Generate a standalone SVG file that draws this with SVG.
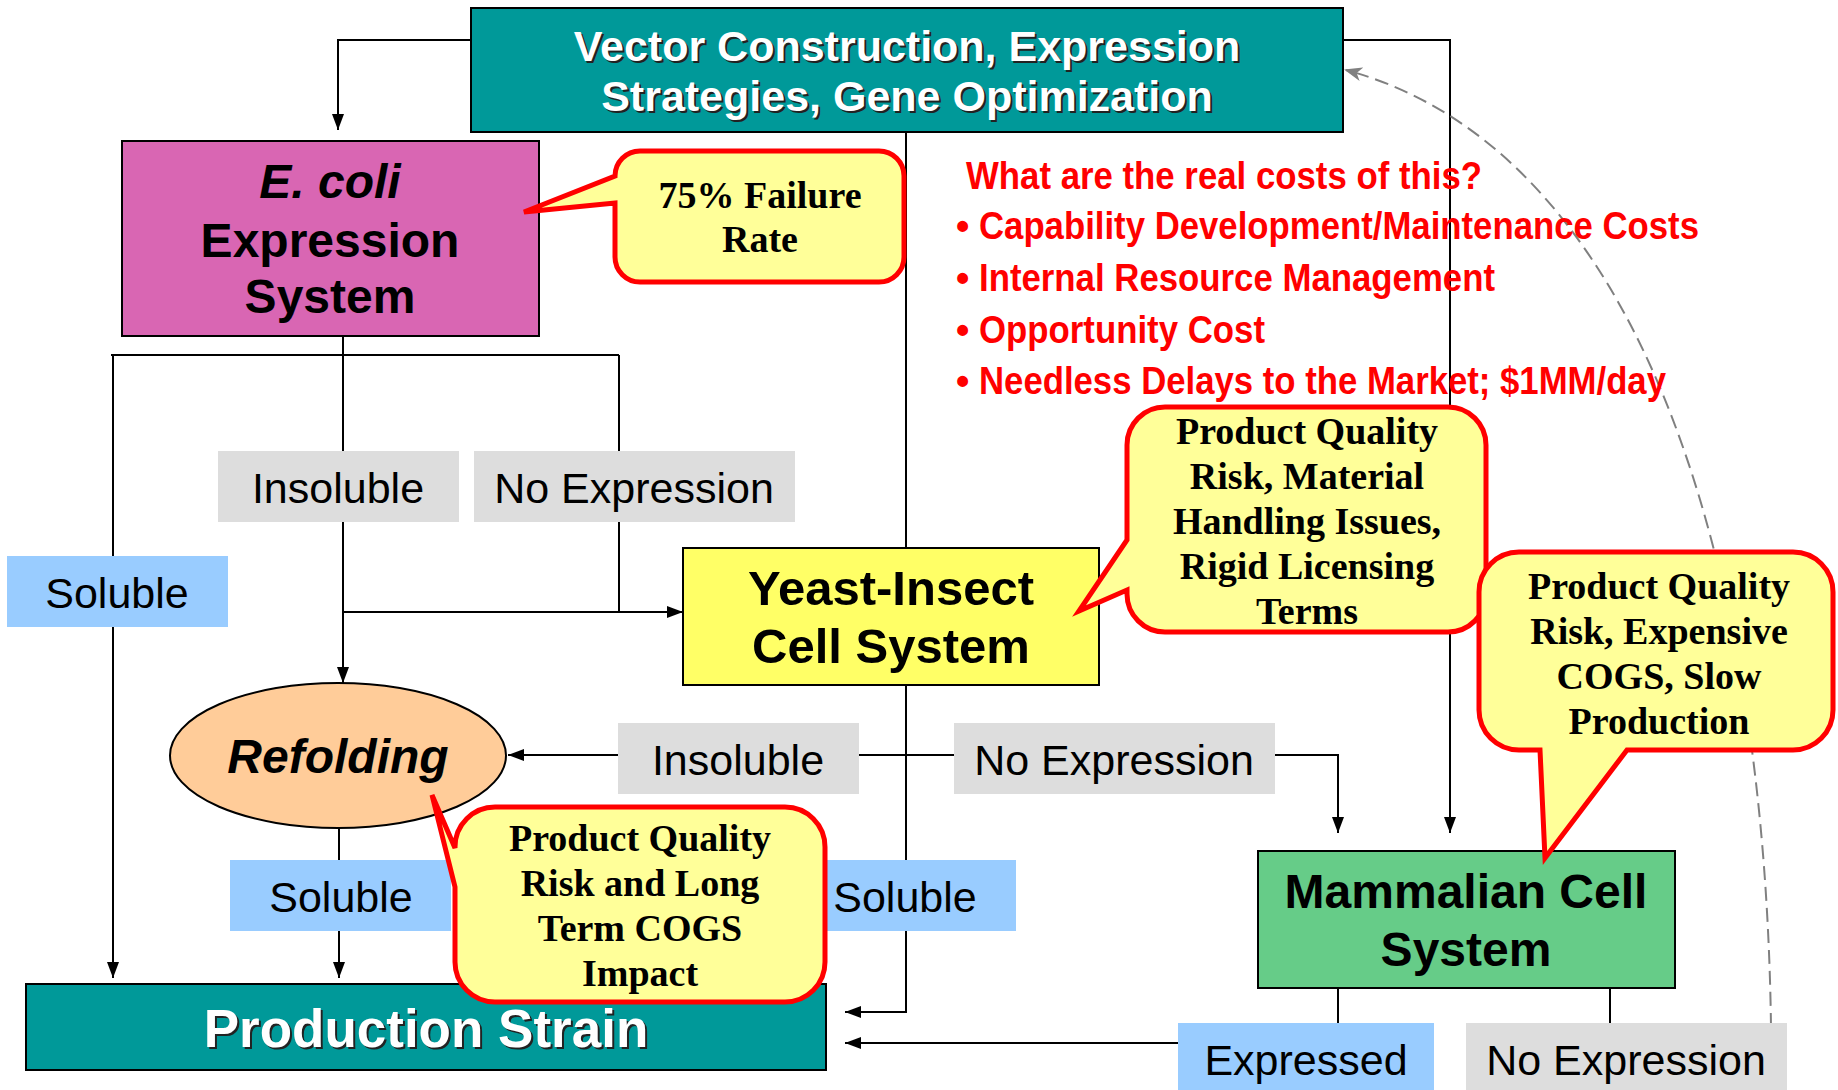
<svg xmlns="http://www.w3.org/2000/svg" width="1838" height="1090" viewBox="0 0 1838 1090">
<style>
.box{stroke:#000;stroke-width:2}
.teal{fill:#009999}
.wt{font-family:"Liberation Sans",Arial,sans-serif;font-weight:bold;fill:#fff;text-anchor:middle}
.sh{font-family:"Liberation Sans",Arial,sans-serif;font-weight:bold;fill:#222;text-anchor:middle}
.bt{font-family:"Liberation Sans",Arial,sans-serif;font-weight:bold;fill:#000;text-anchor:middle}
.lbl{font-family:"Liberation Sans",Arial,sans-serif;font-size:43px;fill:#000;text-anchor:middle}
.gray{fill:#DDDDDD}
.blue{fill:#99CCFF}
.co{fill:#FFFF99;stroke:#FF0000;stroke-width:5;stroke-linejoin:miter}
.ct{font-family:"Liberation Serif","Times New Roman",serif;font-weight:bold;font-size:38px;fill:#000;text-anchor:middle}
.red{font-family:"Liberation Sans",Arial,sans-serif;font-weight:bold;font-size:38px;fill:#FF0000}
.ln{fill:none;stroke:#000;stroke-width:2}
.la{fill:none;stroke:#000;stroke-width:2;marker-end:url(#arr)}
</style>
<defs>
<marker id="arr" markerUnits="userSpaceOnUse" markerWidth="16" markerHeight="12" refX="16" refY="6" orient="auto">
<path d="M0,0 L16,6 L0,12 Z" fill="#000"/>
</marker>
<marker id="garr" markerUnits="userSpaceOnUse" markerWidth="18" markerHeight="14" refX="16" refY="7" orient="auto">
<path d="M0,0 L18,7 L0,14 L5,7 Z" fill="#808080"/>
</marker>
</defs>
<rect width="1838" height="1090" fill="#fff"/>

<g id="connectors">
<path class="la" d="M471,40 H338 V130"/>
<path class="ln" d="M343,336 V355"/>
<path class="ln" d="M111,355 H619"/>
<path class="la" d="M113,355 V978"/>
<path class="la" d="M343,355 V683"/>
<path class="ln" d="M619,355 V612"/>
<path class="la" d="M343,612 H683"/>
<path class="ln" d="M906,132 V548"/>
<path class="la" d="M906,685 V1012 H845"/>
<path class="la" d="M906,755 H508"/>
<path class="la" d="M906,755 H1338 V833"/>
<path class="la" d="M1343,40 H1450 V833"/>
<path class="la" d="M339,828 V978"/>
<path class="ln" d="M1338,988 V1023"/>
<path class="la" d="M1178,1043 H845"/>
<path class="ln" d="M1610,988 V1023"/>
<path d="M1771,1027 C1765,560 1640,150 1346,70" fill="none" stroke="#808080" stroke-width="2" stroke-dasharray="14 7" marker-end="url(#garr)"/>
</g>

<g id="vector">
<rect class="box teal" x="471" y="8" width="872" height="124"/>
<text class="sh" font-size="43" x="909" y="63">Vector Construction, Expression</text>
<text class="sh" font-size="43" x="909" y="113">Strategies, Gene Optimization</text>
<text class="wt" font-size="43" x="907" y="61">Vector Construction, Expression</text>
<text class="wt" font-size="43" x="907" y="111">Strategies, Gene Optimization</text>
</g>

<g id="ecoli">
<rect class="box" fill="#D966B3" x="122" y="141" width="417" height="195"/>
<text class="bt" font-size="48" x="330" y="198" font-style="italic">E. coli</text>
<text class="bt" font-size="48" x="330" y="257">Expression</text>
<text class="bt" font-size="48" x="330" y="313">System</text>
</g>

<g id="lbl-insoluble1">
<rect class="gray" x="218" y="451" width="241" height="71"/>
<text class="lbl" x="338" y="503">Insoluble</text>
</g>
<g id="lbl-noexp1">
<rect class="gray" x="474" y="451" width="321" height="71"/>
<text class="lbl" x="634" y="503">No Expression</text>
</g>
<g id="lbl-soluble1">
<rect class="blue" x="7" y="556" width="221" height="71"/>
<text class="lbl" x="117" y="608">Soluble</text>
</g>

<g id="yeast">
<rect class="box" fill="#FFFF66" x="683" y="548" width="416" height="137"/>
<text class="bt" font-size="49" x="891" y="605">Yeast-Insect</text>
<text class="bt" font-size="49" x="891" y="663">Cell System</text>
</g>

<g id="refolding">
<ellipse cx="338" cy="755.5" rx="168" ry="72.5" fill="#FFCC99" stroke="#000" stroke-width="2"/>
<text class="bt" font-size="48" x="338" y="773" font-style="italic">Refolding</text>
</g>

<g id="lbl-insoluble2">
<rect class="gray" x="618" y="723" width="241" height="71"/>
<text class="lbl" x="738" y="775">Insoluble</text>
</g>
<g id="lbl-noexp2">
<rect class="gray" x="954" y="723" width="321" height="71"/>
<text class="lbl" x="1114" y="775">No Expression</text>
</g>
<g id="lbl-soluble2">
<rect class="blue" x="230" y="860" width="221" height="71"/>
<text class="lbl" x="341" y="912">Soluble</text>
</g>
<g id="lbl-soluble3">
<rect class="blue" x="795" y="860" width="221" height="71"/>
<text class="lbl" x="905" y="912">Soluble</text>
</g>

<g id="mammalian">
<rect class="box" fill="#66CC88" x="1258" y="851" width="417" height="137"/>
<text class="bt" font-size="48" x="1466" y="908">Mammalian Cell</text>
<text class="bt" font-size="48" x="1466" y="966">System</text>
</g>

<g id="production">
<rect class="box teal" x="26" y="984" width="800" height="86"/>
<text class="sh" font-size="53" x="428" y="1049">Production Strain</text>
<text class="wt" font-size="53" x="426" y="1047">Production Strain</text>
</g>

<g id="lbl-expressed">
<rect class="blue" x="1178" y="1023" width="256" height="71"/>
<text class="lbl" x="1306" y="1075">Expressed</text>
</g>
<g id="lbl-noexp3">
<rect class="gray" x="1466" y="1023" width="321" height="71"/>
<text class="lbl" x="1626" y="1075">No Expression</text>
</g>

<g id="callout-failure">
<path class="co" d="M640,151 H879 A25,25 0 0 1 904,176 V257 A25,25 0 0 1 879,282 H640 A25,25 0 0 1 615,257 V203 L524,212 L615,176 A25,25 0 0 1 640,151 Z"/>
<text class="ct" x="760" y="208">75% Failure</text>
<text class="ct" x="760" y="252">Rate</text>
</g>

<g id="callout-yeast">
<path class="co" d="M1165,407 H1448 A38,38 0 0 1 1486,445 V594 A38,38 0 0 1 1448,632 H1165 A38,38 0 0 1 1127,594 V590 L1079,611 L1127,540 V445 A38,38 0 0 1 1165,407 Z"/>
<text class="ct" x="1307" y="444">Product Quality</text>
<text class="ct" x="1307" y="489">Risk, Material</text>
<text class="ct" x="1307" y="534">Handling Issues,</text>
<text class="ct" x="1307" y="579">Rigid Licensing</text>
<text class="ct" x="1307" y="624">Terms</text>
</g>

<g id="callout-mammalian">
<path class="co" d="M1519,552 H1793 A40,40 0 0 1 1833,592 V710 A40,40 0 0 1 1793,750 H1627 L1545,858 L1540,750 H1519 A40,40 0 0 1 1479,710 V592 A40,40 0 0 1 1519,552 Z"/>
<text class="ct" x="1659" y="599">Product Quality</text>
<text class="ct" x="1659" y="644">Risk, Expensive</text>
<text class="ct" x="1659" y="689">COGS, Slow</text>
<text class="ct" x="1659" y="734">Production</text>
</g>

<g id="callout-refolding">
<path class="co" d="M495,807 H785 A40,40 0 0 1 825,847 V962 A40,40 0 0 1 785,1002 H495 A40,40 0 0 1 455,962 V887 L432,795 L455,848 V847 A40,40 0 0 1 495,807 Z"/>
<text class="ct" x="640" y="851">Product Quality</text>
<text class="ct" x="640" y="896">Risk and Long</text>
<text class="ct" x="640" y="941">Term COGS</text>
<text class="ct" x="640" y="986">Impact</text>
</g>

<g id="costs">
<text class="red" x="966" y="189" textLength="516" lengthAdjust="spacingAndGlyphs">What are the real costs of this?</text>
<text class="red" x="956" y="239">•</text>
<text class="red" x="979" y="239" textLength="720" lengthAdjust="spacingAndGlyphs">Capability Development/Maintenance Costs</text>
<text class="red" x="956" y="291">•</text>
<text class="red" x="979" y="291" textLength="516" lengthAdjust="spacingAndGlyphs">Internal Resource Management</text>
<text class="red" x="956" y="343">•</text>
<text class="red" x="979" y="343" textLength="286" lengthAdjust="spacingAndGlyphs">Opportunity Cost</text>
<text class="red" x="956" y="394">•</text>
<text class="red" x="979" y="394" textLength="687" lengthAdjust="spacingAndGlyphs">Needless Delays to the Market; $1MM/day</text>
</g>
</svg>
